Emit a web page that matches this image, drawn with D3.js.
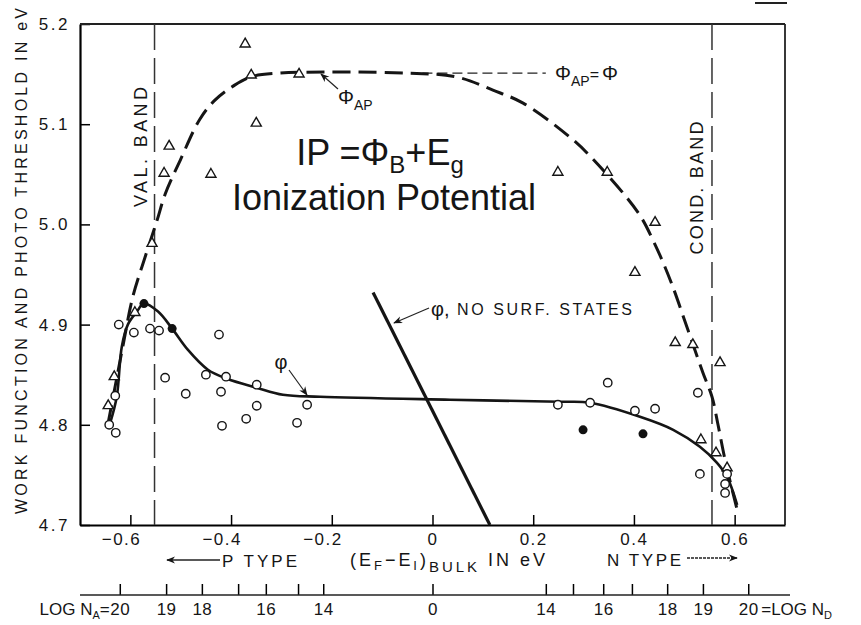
<!DOCTYPE html>
<html>
<head>
<meta charset="utf-8">
<script src="https://cdn.jsdelivr.net/npm/d3@7"></script>
<style>
    body { margin: 0; background: #fff; }
    svg text { font-family: "Liberation Sans", Arial, sans-serif; fill: #151515; }
</style>
</head>
<body>
<div id="chart"></div>
<script>
// ---- data ----
// (E_F - E_I) bulk axis, eV
const energyTicks = [-0.6, -0.4, -0.2, 0, 0.2, 0.4, 0.6];
// work function axis, eV
const workTicks = [4.7, 4.8, 4.9, 5.0, 5.1, 5.2];

// doping scale: tick position expressed on the energy axis, and its label
const logTickPos = [-0.621, -0.529, -0.458, -0.386, -0.331, -0.267, -0.217, 0.0, 0.225, 0.279, 0.339, 0.396, 0.466, 0.537, 0.627];
const logTickLabels = ["20", "19", "18", "", "16", "", "14", "0", "14", "", "16", "", "18", "19", "20"];

// valence / conduction band edges
const bandEdges = [-0.552, 0.555];

// photo threshold curve (dashed)
const phiApCurve = [
    [-0.644, 4.802], [-0.615, 4.878], [-0.595, 4.928], [-0.571, 4.967], [-0.547, 5.004],
    [-0.531, 5.030], [-0.501, 5.064], [-0.462, 5.105], [-0.432, 5.124], [-0.396, 5.138],
    [-0.362, 5.147], [-0.303, 5.151], [-0.05, 5.151], [0.049, 5.147], [0.120, 5.134],
    [0.180, 5.121], [0.273, 5.087], [0.317, 5.066], [0.408, 5.012], [0.440, 4.982],
    [0.474, 4.942], [0.507, 4.895], [0.537, 4.852], [0.555, 4.828], [0.567, 4.800],
    [0.581, 4.765], [0.605, 4.715]
];

// work function curve (solid)
const phiCurve = [
    [-0.640, 4.802], [-0.627, 4.828], [-0.617, 4.878], [-0.605, 4.900], [-0.587, 4.913],
    [-0.573, 4.921], [-0.545, 4.913], [-0.517, 4.896], [-0.486, 4.875], [-0.446, 4.855],
    [-0.408, 4.846], [-0.349, 4.837], [-0.297, 4.830], [-0.223, 4.828], [0.035, 4.825],
    [0.253, 4.823], [0.313, 4.822], [0.412, 4.808], [0.478, 4.795], [0.531, 4.778],
    [0.565, 4.762], [0.585, 4.748], [0.605, 4.720]
];

// work function with no surface states
const noSurfStates = [[-0.118, 4.932], [0.114, 4.700]];
// Phi_AP = Phi reference level
const apEqualsPhi = [[-0.02, 5.151], [0.225, 5.151]];

// measured photo thresholds (triangles)
const triangles = [
    [-0.372, 5.180], [-0.360, 5.149], [-0.265, 5.150], [-0.350, 5.101], [-0.523, 5.078],
    [-0.533, 5.051], [-0.440, 5.050], [-0.557, 4.981], [-0.591, 4.912], [-0.632, 4.848],
    [-0.644, 4.819], [0.249, 5.052], [0.347, 5.052], [0.442, 5.002], [0.402, 4.952],
    [0.482, 4.882], [0.517, 4.880], [0.571, 4.862], [0.533, 4.785], [0.563, 4.772],
    [0.585, 4.757]
];

// measured work functions (open circles)
const openCircles = [
    [-0.623, 4.900], [-0.593, 4.892], [-0.561, 4.896], [-0.543, 4.894], [-0.531, 4.847],
    [-0.490, 4.831], [-0.450, 4.850], [-0.424, 4.890], [-0.420, 4.833], [-0.410, 4.848],
    [-0.349, 4.840], [-0.349, 4.819], [-0.370, 4.806], [-0.418, 4.799], [-0.269, 4.802],
    [-0.249, 4.820], [-0.630, 4.829], [-0.642, 4.800], [-0.629, 4.792], [0.249, 4.820],
    [0.313, 4.822], [0.348, 4.842], [0.402, 4.814], [0.442, 4.816], [0.527, 4.832],
    [0.531, 4.751], [0.585, 4.751], [0.581, 4.741], [0.581, 4.732]
];

// work functions, second sample set (filled circles)
const filledCircles = [[-0.573, 4.921], [-0.517, 4.896], [0.299, 4.795], [0.418, 4.791]];


class ThresholdChart {

    constructor(parentElement) {
        let vis = this;
        vis.parentElement = parentElement;
        vis.initVis();
    }

    initVis() {
        let vis = this;

        vis.margin = {top: 24, right: 76, bottom: 100, left: 80};
        vis.width = 861 - vis.margin.left - vis.margin.right;
        vis.height = 625 - vis.margin.top - vis.margin.bottom;

        vis.svg = d3.select("#" + vis.parentElement)
            .append("svg")
            .attr("width", 861)
            .attr("height", 625)
            .append("g")
            .attr("transform", "translate(" + vis.margin.left + "," + vis.margin.top + ")");

        vis.x = d3.scaleLinear().domain([-0.7, 0.7]).range([0, vis.width]);
        vis.y = d3.scaleLinear().domain([4.7, 5.2]).range([vis.height, 0]);

        // arrow head
        let defs = vis.svg.append("defs");
        defs.append("marker")
            .attr("id", "arrow")
            .attr("viewBox", "0 0 10 10")
            .attr("refX", 9).attr("refY", 5)
            .attr("markerWidth", 9).attr("markerHeight", 9)
            .attr("markerUnits", "userSpaceOnUse")
            .attr("orient", "auto")
            .append("path")
            .attr("d", "M0,1 L10,5 L0,9 L3,5 Z")
            .attr("fill", "#151515");

        vis.drawAxes();
        vis.drawCurves();
        vis.drawPoints();
        vis.drawLabels();
    }

    drawAxes() {
        let vis = this;

        let fmtE = d => d === 0 ? "0" : (d < 0 ? "\u2212" : "") + Math.abs(d).toFixed(1);

        let xAxis = d3.axisBottom(vis.x)
            .tickValues(energyTicks)
            .tickSize(-10)
            .tickSizeOuter(0)
            .tickPadding(8)
            .tickFormat(fmtE);

        let gx = vis.svg.append("g")
            .attr("transform", "translate(0," + vis.height + ")")
            .call(xAxis);
        gx.select(".domain").attr("stroke-width", 2.2);
        gx.selectAll(".tick line").attr("stroke-width", 1.5);
        gx.selectAll("text")
            .attr("font-size", 17)
            .attr("letter-spacing", 1.5)
            .attr("fill", "#151515")
            .attr("dx", d => d < 0 ? "-0.55em" : 0);

        let yAxis = d3.axisLeft(vis.y)
            .tickValues(workTicks)
            .tickSize(-10)
            .tickSizeOuter(0)
            .tickPadding(10)
            .tickFormat(d3.format(".1f"));

        let gy = vis.svg.append("g").call(yAxis);
        gy.select(".domain").attr("stroke-width", 2.2);
        gy.selectAll(".tick line").attr("stroke-width", 1.5);
        gy.selectAll("text")
            .attr("font-size", 17)
            .attr("letter-spacing", 2.5)
            .attr("fill", "#151515");

        // top and right frame
        vis.svg.append("line")
            .attr("x1", 0).attr("x2", vis.width)
            .attr("y1", 0).attr("y2", 0)
            .attr("stroke", "#222").attr("stroke-width", 1.8);
        vis.svg.append("line")
            .attr("x1", vis.width).attr("x2", vis.width)
            .attr("y1", 0).attr("y2", vis.height)
            .attr("stroke", "#222").attr("stroke-width", 1.8);

        // doping axis underneath
        let logAxis = d3.axisBottom(vis.x)
            .tickValues(logTickPos)
            .tickSize(-11)
            .tickSizeOuter(0)
            .tickPadding(8)
            .tickFormat((d, i) => logTickLabels[i]);

        vis.logY = vis.height + 70;
        let gl = vis.svg.append("g")
            .attr("transform", "translate(0," + vis.logY + ")")
            .call(logAxis);
        gl.select(".domain").remove();
        gl.selectAll(".tick line").attr("stroke-width", 1.5);
        gl.selectAll("text")
            .attr("font-size", 17)
            .attr("letter-spacing", 0.5)
            .attr("fill", "#151515");
        gl.append("line")
            .attr("x1", 0).attr("x2", vis.width + 5)
            .attr("y1", 0).attr("y2", 0)
            .attr("stroke", "#222").attr("stroke-width", 1.6);

        // LOG N_A / LOG N_D labels hanging off the end ticks
        let first = vis.x(logTickPos[0]);
        let last = vis.x(logTickPos[logTickPos.length - 1]);
        let la = gl.append("text")
            .attr("x", first - 10).attr("y", 20)
            .attr("text-anchor", "end")
            .attr("font-size", 17);
        la.append("tspan").text("LOG N");
        la.append("tspan").attr("font-size", 11).attr("dy", 4).text("A");
        la.append("tspan").attr("dy", -4).text("=");

        let ld = gl.append("text")
            .attr("x", last + 13).attr("y", 20)
            .attr("text-anchor", "start")
            .attr("font-size", 17);
        ld.append("tspan").text("=LOG N");
        ld.append("tspan").attr("font-size", 11).attr("dy", 4).text("D");
    }

    drawCurves() {
        let vis = this;

        let line = d3.line()
            .x(d => vis.x(d[0]))
            .y(d => vis.y(d[1]))
            .curve(d3.curveCatmullRom.alpha(0.5));

        let straight = d3.line()
            .x(d => vis.x(d[0]))
            .y(d => vis.y(d[1]));

        // band edge markers
        vis.svg.selectAll(".band-edge")
            .data(bandEdges)
            .enter()
            .append("line")
            .attr("class", "band-edge")
            .attr("x1", d => vis.x(d)).attr("x2", d => vis.x(d))
            .attr("y1", 0).attr("y2", vis.height)
            .attr("stroke", "#333")
            .attr("stroke-width", 1.5)
            .attr("stroke-dasharray", "26,8");

        // Phi_AP = Phi level
        vis.svg.append("path")
            .attr("d", straight(apEqualsPhi))
            .attr("fill", "none")
            .attr("stroke", "#222")
            .attr("stroke-width", 1.3)
            .attr("stroke-dasharray", "10,5");

        vis.svg.append("path")
            .attr("class", "phi-ap")
            .attr("d", line(phiApCurve))
            .attr("fill", "none")
            .attr("stroke", "#151515")
            .attr("stroke-width", 3)
            .attr("stroke-dasharray", "18,8");

        vis.svg.append("path")
            .attr("class", "phi")
            .attr("d", line(phiCurve))
            .attr("fill", "none")
            .attr("stroke", "#151515")
            .attr("stroke-width", 2.6);

        vis.svg.append("path")
            .attr("class", "no-surf")
            .attr("d", straight(noSurfStates))
            .attr("fill", "none")
            .attr("stroke", "#151515")
            .attr("stroke-width", 3.2);
    }

    drawPoints() {
        let vis = this;

        vis.svg.selectAll(".tri")
            .data(triangles)
            .enter()
            .append("path")
            .attr("class", "tri")
            .attr("d", d3.symbol(d3.symbolTriangle, 44))
            .attr("transform", d => "translate(" + vis.x(d[0]) + "," + vis.y(d[1]) + ")")
            .attr("fill", "#fff")
            .attr("stroke", "#151515")
            .attr("stroke-width", 1.4);

        vis.svg.selectAll(".open-pt")
            .data(openCircles)
            .enter()
            .append("circle")
            .attr("class", "open-pt")
            .attr("cx", d => vis.x(d[0]))
            .attr("cy", d => vis.y(d[1]))
            .attr("r", 4.2)
            .attr("fill", "#fff")
            .attr("stroke", "#151515")
            .attr("stroke-width", 1.4);

        vis.svg.selectAll(".filled-pt")
            .data(filledCircles)
            .enter()
            .append("circle")
            .attr("class", "filled-pt")
            .attr("cx", d => vis.x(d[0]))
            .attr("cy", d => vis.y(d[1]))
            .attr("r", 4.5)
            .attr("fill", "#111");
    }

    drawLabels() {
        let vis = this;
        // labels are placed in page coordinates
        let page = d3.select("#" + vis.parentElement).select("svg");

        // y axis title
        page.append("text")
            .attr("transform", "translate(27,261) rotate(-90)")
            .attr("text-anchor", "middle")
            .attr("font-size", 16)
            .attr("textLength", 506)
            .attr("lengthAdjust", "spacing")
            .text("WORK FUNCTION AND PHOTO THRESHOLD IN eV");

        // band labels
        page.append("text")
            .attr("transform", "translate(147,147) rotate(-90)")
            .attr("text-anchor", "middle")
            .attr("font-size", 18)
            .attr("textLength", 120)
            .attr("lengthAdjust", "spacing")
            .text("VAL. BAND");
        page.append("text")
            .attr("transform", "translate(703,188) rotate(-90)")
            .attr("text-anchor", "middle")
            .attr("font-size", 18)
            .attr("textLength", 133)
            .attr("lengthAdjust", "spacing")
            .text("COND. BAND");

        // Phi_AP = Phi
        let eq = page.append("text").attr("x", 555).attr("y", 80).attr("font-size", 20);
        eq.append("tspan").text("\u03A6");
        eq.append("tspan").attr("font-size", 14).attr("dy", 6).text("AP");
        eq.append("tspan").attr("dy", -6).attr("font-size", 16).text("=");
        eq.append("tspan").attr("dx", 3).text("\u03A6");

        // Phi_AP pointer
        let ap = page.append("text").attr("x", 338).attr("y", 104).attr("font-size", 20);
        ap.append("tspan").text("\u03A6");
        ap.append("tspan").attr("font-size", 14).attr("dy", 6).text("AP");
        page.append("line")
            .attr("x1", 338).attr("y1", 89).attr("x2", 321).attr("y2", 74)
            .attr("stroke", "#222").attr("stroke-width", 1.2)
            .attr("marker-end", "url(#arrow)");

        // phi pointer
        page.append("text")
            .attr("x", 281).attr("y", 369)
            .attr("text-anchor", "middle")
            .attr("font-size", 20)
            .text("\u03C6");
        page.append("line")
            .attr("x1", 289).attr("y1", 370).attr("x2", 307).attr("y2", 395)
            .attr("stroke", "#222").attr("stroke-width", 1.2)
            .attr("marker-end", "url(#arrow)");

        // phi, no surface states
        page.append("text")
            .attr("x", 431).attr("y", 316)
            .attr("font-size", 20)
            .text("\u03C6,");
        page.append("text")
            .attr("x", 457).attr("y", 315)
            .attr("font-size", 16)
            .attr("textLength", 175)
            .attr("lengthAdjust", "spacing")
            .text("NO SURF. STATES");
        page.append("line")
            .attr("x1", 429).attr("y1", 308).attr("x2", 394).attr("y2", 323)
            .attr("stroke", "#222").attr("stroke-width", 1.2)
            .attr("marker-end", "url(#arrow)");

        // ionization potential note
        let ip = page.append("text")
            .attr("x", 380).attr("y", 165)
            .attr("text-anchor", "middle")
            .attr("font-size", 36)
            .attr("fill", "#000");
        ip.append("tspan").text("IP =\u03A6");
        ip.append("tspan").attr("font-size", 24).attr("dy", 8).text("B");
        ip.append("tspan").attr("dy", -8).text("+E");
        ip.append("tspan").attr("font-size", 24).attr("dy", 8).text("g");
        page.append("text")
            .attr("x", 384).attr("y", 210)
            .attr("text-anchor", "middle")
            .attr("font-size", 36)
            .attr("fill", "#000")
            .text("Ionization Potential");

        // energy axis title
        page.append("line")
            .attr("x1", 220).attr("y1", 560).attr("x2", 167).attr("y2", 560)
            .attr("stroke", "#222").attr("stroke-width", 1.3)
            .attr("marker-end", "url(#arrow)");
        page.append("text")
            .attr("x", 222).attr("y", 567)
            .attr("font-size", 17)
            .attr("textLength", 75)
            .attr("lengthAdjust", "spacing")
            .text("P TYPE");

        let ef = page.append("text")
            .attr("x", 350).attr("y", 566)
            .attr("font-size", 18)
            .attr("textLength", 195)
            .attr("lengthAdjust", "spacing");
        ef.append("tspan").text("(E");
        ef.append("tspan").attr("font-size", 13).attr("dy", 4).text("F");
        ef.append("tspan").attr("dy", -4).text("\u2212E");
        ef.append("tspan").attr("font-size", 13).attr("dy", 4).text("I");
        ef.append("tspan").attr("dy", -4).text(")");
        ef.append("tspan").attr("font-size", 15).attr("dy", 6).text("BULK");
        ef.append("tspan").attr("dy", -6).text(" IN eV");

        page.append("text")
            .attr("x", 607).attr("y", 566)
            .attr("font-size", 17)
            .attr("textLength", 74)
            .attr("lengthAdjust", "spacing")
            .text("N TYPE");
        page.append("line")
            .attr("x1", 687).attr("y1", 558).attr("x2", 737).attr("y2", 558)
            .attr("stroke", "#222").attr("stroke-width", 1.3)
            .attr("stroke-dasharray", "3,1")
            .attr("marker-end", "url(#arrow)");

        // scan fragment at top right
        page.append("line")
            .attr("x1", 755).attr("y1", 3).attr("x2", 787).attr("y2", 3)
            .attr("stroke", "#222").attr("stroke-width", 2);
    }
}

new ThresholdChart("chart");
</script>
</body>
</html>
